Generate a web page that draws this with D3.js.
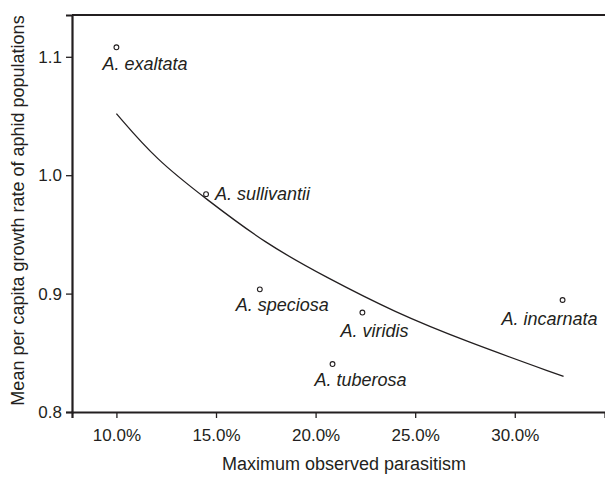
<!DOCTYPE html>
<html>
<head>
<meta charset="utf-8">
<script src="https://cdn.jsdelivr.net/npm/d3@7"></script>
<style>
  body { margin: 0; background: #fff; }
  svg { display: block; font-family: "Liberation Sans", Arial, sans-serif; }
  .axis path, .axis line { stroke: #231f20; }
  .axis text { fill: #231f20; font-size: 17px; }
</style>
</head>
<body>
<div id="chart"></div>
<script>
// species points (parasitism fraction, growth rate)
const species = ["A. exaltata", "A. sullivantii", "A. speciosa", "A. viridis", "A. tuberosa", "A. incarnata"];
const parasitism = [0.100, 0.145, 0.172, 0.2235, 0.2085, 0.324];
const growth = [1.108, 0.984, 0.9036, 0.884, 0.8405, 0.8946];

// fitted curve
const curveX = [0.100, 0.120, 0.145, 0.175, 0.205, 0.240, 0.275, 0.3245];
const curveY = [1.052, 1.013, 0.980, 0.942, 0.914, 0.884, 0.860, 0.830];

const xTicks = [0.10, 0.15, 0.20, 0.25, 0.30];
const yTicks = [0.8, 0.9, 1.0, 1.1];

// label placement relative to the point (px)
const labelOff = [[-14, 23], [9, 6], [-24, 22], [-22, 24], [-18, 22], [-61, 25]];

const w = 605, h = 478;
const pLeft = 72, pRight = 605, pTop = 15, pBottom = 412;

const svg = d3.select("#chart").append("svg")
  .attr("width", w)
  .attr("height", h);

const x = d3.scaleLinear().domain([0.0777, 0.3453]).range([pLeft, pRight]);
const y = d3.scaleLinear().domain([0.8, 1.1353]).range([pBottom, pTop]);

// top frame line
svg.append("line")
  .attr("x1", pLeft).attr("x2", pRight)
  .attr("y1", pTop).attr("y2", pTop)
  .attr("stroke", "#231f20")
  .attr("stroke-width", 2);

svg.append("g")
  .attr("class", "axis")
  .attr("transform", `translate(0, ${pBottom})`)
  .call(d3.axisBottom(x).tickValues(xTicks).tickFormat(d3.format(".1%")).tickSizeOuter(0).tickSize(6).tickPadding(11))
  .call(g => g.select(".domain").attr("stroke-width", 2.2))
  .call(g => g.selectAll(".tick line").attr("stroke-width", 1.3));

svg.append("g")
  .attr("class", "axis")
  .attr("transform", `translate(${pLeft}, 0)`)
  .call(d3.axisLeft(y).tickValues(yTicks).tickFormat(d3.format(".1f")).tickSizeOuter(0).tickSize(6).tickPadding(4))
  .call(g => g.select(".domain").attr("stroke-width", 2.2))
  .call(g => g.selectAll(".tick line").attr("stroke-width", 1.3));

// axis titles
svg.append("text")
  .attr("x", 344)
  .attr("y", 470)
  .attr("text-anchor", "middle")
  .attr("fill", "#231f20")
  .style("font-size", "18px")
  .text("Maximum observed parasitism");

svg.append("text")
  .attr("transform", `translate(24, ${(8 + 413) / 2}) rotate(-90)`)
  .attr("text-anchor", "middle")
  .attr("fill", "#231f20")
  .style("font-size", "18px")
  .text("Mean per capita growth rate of aphid populations");

// fitted curve
const line = d3.line()
  .x(d => x(d[0]))
  .y(d => y(d[1]))
  .curve(d3.curveBasis);

svg.append("path")
  .datum(curveX.map((v, i) => [v, curveY[i]]))
  .attr("d", line)
  .attr("fill", "none")
  .attr("stroke", "#231f20")
  .attr("stroke-width", 1.3);

// points and labels
const pts = species.map((s, i) => ({name: s, px: parasitism[i], gr: growth[i], off: labelOff[i]}));

svg.selectAll("circle.pt")
  .data(pts)
  .enter()
  .append("circle")
  .attr("class", "pt")
  .attr("cx", d => x(d.px))
  .attr("cy", d => y(d.gr))
  .attr("r", 2.4)
  .attr("fill", "#fff")
  .attr("stroke", "#231f20")
  .attr("stroke-width", 1.1);

svg.selectAll("text.lbl")
  .data(pts)
  .enter()
  .append("text")
  .attr("class", "lbl")
  .attr("x", d => x(d.px) + d.off[0])
  .attr("y", d => y(d.gr) + d.off[1])
  .attr("fill", "#231f20")
  .style("font-size", "18px")
  .style("font-style", "italic")
  .text(d => d.name);
</script>
</body>
</html>
